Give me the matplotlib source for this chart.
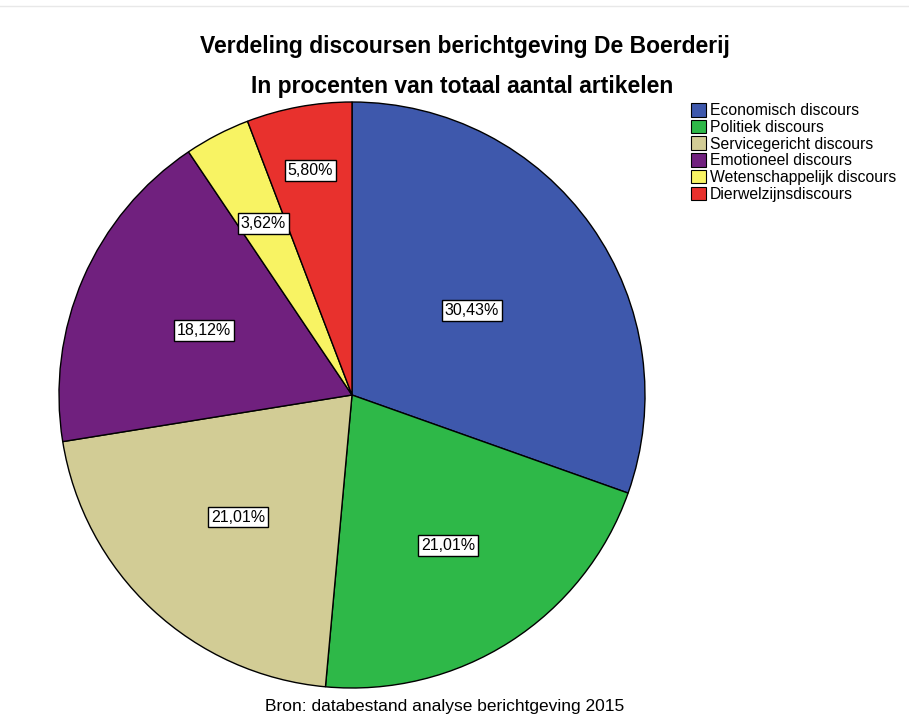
import matplotlib
matplotlib.use("Agg")
import matplotlib.pyplot as plt
import numpy as np

plt.rcParams['font.family'] = ['Liberation Sans', 'DejaVu Sans']

categories = ["Economisch discours", "Politiek discours", "Servicegericht discours",
              "Emotioneel discours", "Wetenschappelijk discours", "Dierwelzijnsdiscours"]
values = [30.43, 21.01, 21.01, 18.12, 3.62, 5.80]
colors = ["#3E58AC", "#2EB848", "#D2CC95", "#70207E", "#F8F363", "#E8312D"]
label_r = [0.50, 0.61, 0.57, 0.55, 0.66, 0.78]

fig = plt.figure(figsize=(9.09, 7.22), dpi=100)
fig.patch.set_facecolor("white")

cx, cy, R = 352, 395, 293
W, H = 909, 722
ax = fig.add_axes([(cx - R) / W, (H - cy - R) / H, 2 * R / W, 2 * R / H])
wedges, _ = ax.pie(values, colors=colors, startangle=90, counterclock=False,
                   wedgeprops=dict(edgecolor="black", linewidth=1.0), radius=1.0)
ax.set_xlim(-1, 1)
ax.set_ylim(-1, 1)
ax.set_aspect("equal")
ax.axis("off")

for w, v, lr in zip(wedges, values, label_r):
    ang = np.deg2rad((w.theta1 + w.theta2) / 2)
    ax.text(lr * np.cos(ang), lr * np.sin(ang), f"{v:.2f}%".replace(".", ","),
            ha="center", va="center", fontsize=11.5,
            bbox=dict(boxstyle="square,pad=0.18", facecolor="white", edgecolor="black", linewidth=1.0))

fig.text(465 / W, 1 - 46 / H, "Verdeling discoursen berichtgeving De Boerderij",
         ha="center", va="center", fontsize=16.5, fontweight="bold")
fig.text(462 / W, 1 - 86 / H, "In procenten van totaal aantal artikelen",
         ha="center", va="center", fontsize=16.5, fontweight="bold")
fig.text(445 / W, 1 - 706 / H, "Bron: databestand analyse berichtgeving 2015",
         ha="center", va="center", fontsize=12.5)

fig.add_artist(plt.Line2D([0, 1], [1 - 6 / H, 1 - 6 / H], color="#E8E8E8", linewidth=1))

leg = fig.legend(wedges, categories, loc="upper left", bbox_to_anchor=(691 / W, 1 - 103 / H),
                 frameon=False, fontsize=11.3, handlelength=0.95, handleheight=0.95,
                 handletextpad=0.25, labelspacing=0.1, borderpad=0, borderaxespad=0)
for h in leg.legend_handles:
    h.set_linewidth(0.8)

fig.savefig("out.png", dpi=100)
